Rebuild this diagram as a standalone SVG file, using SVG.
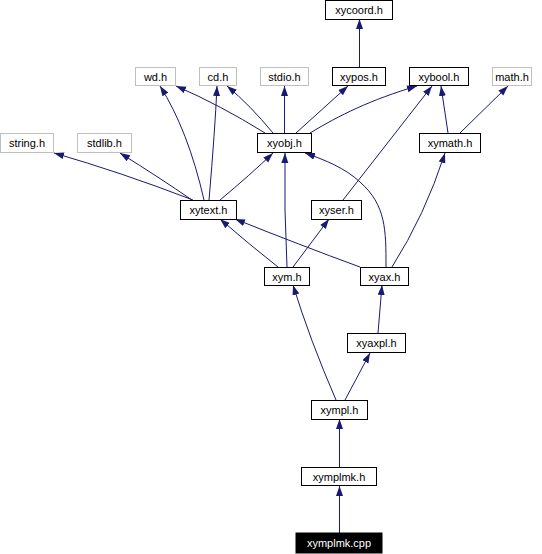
<svg xmlns="http://www.w3.org/2000/svg" width="542" height="554" viewBox="0 0 542 554">
<defs>
<marker id="ah" markerUnits="userSpaceOnUse" markerWidth="11" markerHeight="8" refX="10" refY="3.5" orient="auto">
<path d="M0,0 L10,3.5 L0,7 z" fill="#191970"/>
</marker>
<style>
.n rect{fill:#fff;stroke:#000;stroke-width:1}
.g rect{fill:#fff;stroke:#bfbfbf;stroke-width:1}
.n text,.g text{font-family:"Liberation Sans",Arial,sans-serif;font-size:11px;fill:#000;text-anchor:middle}
#edges path{fill:none;stroke:#191970;stroke-width:1;marker-end:url(#ah)}
.cur rect{fill:#000;stroke:#000}
.cur text{fill:#fff}
</style>
</defs>
<rect width="542" height="554" fill="#fff"/>
<g id="edges">
<path d="M193,200 Q120,172 54,153"/>
<path d="M192,200 Q160,178 120,153"/>
<path d="M204,200 Q188,130 160,86"/>
<path d="M209,200 Q215,130 217,86"/>
<path d="M220,200 Q250,175 273,153"/>
<path d="M265,133 Q220,105 176,86"/>
<path d="M273,133 Q250,105 227,86"/>
<path d="M284.5,133 L284.5,86"/>
<path d="M296,133 L348,86"/>
<path d="M310,133 C340,115 370,100 417,86"/>
<path d="M343,200 L432,86"/>
<path d="M448,133 L441,86"/>
<path d="M460,133 L508,86"/>
<path d="M359.5,67 L359.5,19"/>
<path d="M287,267 Q284,210 285,153"/>
<path d="M278,267 Q250,245 220,219"/>
<path d="M293,267 L329,219"/>
<path d="M360,267 Q300,245 235,219"/>
<path d="M386,267 C386,230 386,205 360,182 C345,168 325,160 305,153"/>
<path d="M392,267 Q425,215 445,153"/>
<path d="M378,333 L382,285"/>
<path d="M336,400 Q310,340 293,285"/>
<path d="M345,400 L370,353"/>
<path d="M339.5,467 L339.5,419"/>
<path d="M339.5,533 L339.5,486"/>
</g>
<g id="n_xycoord" class="n"><rect x="325.5" y="0.5" width="67" height="19"/><text x="359" y="14">xycoord.h</text></g>
<g id="n_wd" class="g"><rect x="135.5" y="67.5" width="40" height="18"/><text x="155.5" y="80.5">wd.h</text></g>
<g id="n_cd" class="g"><rect x="199.5" y="67.5" width="37" height="18"/><text x="218" y="80.5">cd.h</text></g>
<g id="n_stdio" class="g"><rect x="260.5" y="67.5" width="48" height="18"/><text x="284.5" y="80.5">stdio.h</text></g>
<g id="n_xypos" class="n"><rect x="332.5" y="67.5" width="53" height="18"/><text x="359" y="80.5">xypos.h</text></g>
<g id="n_xybool" class="n"><rect x="409.5" y="67.5" width="59" height="18"/><text x="439" y="80.5">xybool.h</text></g>
<g id="n_math" class="g"><rect x="492.5" y="67.5" width="39" height="18"/><text x="512" y="80.5">math.h</text></g>
<g id="n_string" class="g"><rect x="0.5" y="133.5" width="53" height="19"/><text x="27" y="147">string.h</text></g>
<g id="n_stdlib" class="g"><rect x="77.5" y="133.5" width="54" height="19"/><text x="104.5" y="147">stdlib.h</text></g>
<g id="n_xyobj" class="n"><rect x="257.5" y="133.5" width="54" height="19"/><text x="284.5" y="147">xyobj.h</text></g>
<g id="n_xymath" class="n"><rect x="419.5" y="133.5" width="61" height="19"/><text x="450" y="147">xymath.h</text></g>
<g id="n_xytext" class="n"><rect x="180.5" y="200.5" width="56" height="19"/><text x="208.5" y="214">xytext.h</text></g>
<g id="n_xyser" class="n"><rect x="311.5" y="200.5" width="50" height="19"/><text x="336.5" y="214">xyser.h</text></g>
<g id="n_xym" class="n"><rect x="264.5" y="267.5" width="45" height="18"/><text x="287" y="280.5">xym.h</text></g>
<g id="n_xyax" class="n"><rect x="360.5" y="267.5" width="48" height="18"/><text x="384.5" y="280.5">xyax.h</text></g>
<g id="n_xyaxpl" class="n"><rect x="347.5" y="333.5" width="58" height="19"/><text x="376.5" y="347">xyaxpl.h</text></g>
<g id="n_xympl" class="n"><rect x="311.5" y="400.5" width="56" height="19"/><text x="339.5" y="414">xympl.h</text></g>
<g id="n_xymplmk_h" class="n"><rect x="301.5" y="467.5" width="75" height="18"/><text x="339" y="480.5">xymplmk.h</text></g>
<g id="n_xymplmk_cpp" class="n cur"><rect x="296" y="533" width="86" height="20"/><text x="339" y="547">xymplmk.cpp</text></g>
</svg>
